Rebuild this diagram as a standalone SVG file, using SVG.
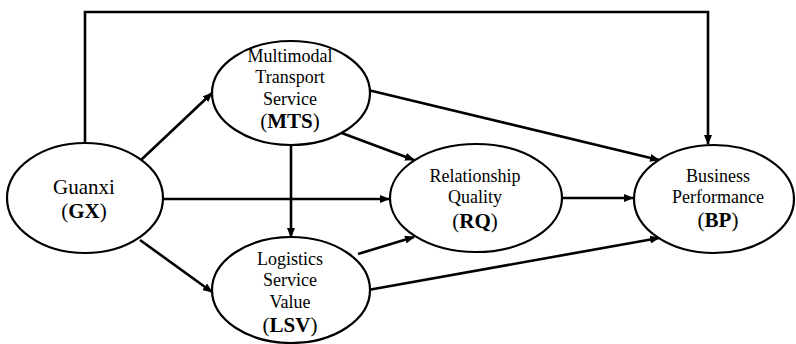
<svg xmlns="http://www.w3.org/2000/svg" width="796" height="344" viewBox="0 0 796 344" font-family="'Liberation Serif', 'Times New Roman', 'DejaVu Serif', serif">
<style>
.n{fill:#fff;stroke:#000;stroke-width:2.2}
.c{fill:none;stroke:#000;stroke-width:2.6;marker-end:url(#ah)}
text{font-family:'Liberation Serif','Times New Roman','DejaVu Serif',serif;font-size:18px;text-anchor:middle;fill:#000}
.b{font-size:21px}
.bb{font-weight:bold}
</style>
<defs>
<marker id="ah" markerWidth="10" markerHeight="8" refX="9" refY="4" orient="auto" markerUnits="userSpaceOnUse">
<path d="M0,0 L10,4 L0,8 Z" fill="#000"/>
</marker>
</defs>
<g id="connectors">
<path class="c" d="M85,144 V12 H708 V144"/>
<path class="c" d="M141,160 L212,93"/>
<path class="c" d="M140,240 L212,292"/>
<path class="c" d="M163,199 L389,199"/>
<path class="c" d="M291,145 L291,237"/>
<path class="c" d="M331,129 L414,160"/>
<path class="c" d="M358,254 L414,237"/>
<path class="c" d="M368,90 L659,160"/>
<path class="c" d="M368,290 L659,238"/>
<path class="c" d="M562,198 L633,198"/>
</g>
<g id="GX">
<ellipse class="n" cx="85" cy="198" rx="78" ry="55"/>
<text x="84" y="194" class="b">Guanxi</text>
<text x="84" y="218" class="b">(<tspan class="bb">GX</tspan>)</text>
</g>
<g id="MTS">
<ellipse class="n" cx="291" cy="93" rx="79" ry="52"/>
<text x="290" y="62">Multimodal</text>
<text x="290" y="83">Transport</text>
<text x="290" y="105">Service</text>
<text x="290" y="128" class="b">(<tspan class="bb">MTS</tspan>)</text>
</g>
<g id="LSV">
<ellipse class="n" cx="291" cy="290" rx="79" ry="53"/>
<text x="290" y="265">Logistics</text>
<text x="290" y="286">Service</text>
<text x="290" y="308">Value</text>
<text x="290" y="332" class="b">(<tspan class="bb">LSV</tspan>)</text>
</g>
<g id="RQ">
<ellipse class="n" cx="476" cy="198" rx="86" ry="54"/>
<text x="475" y="182">Relationship</text>
<text x="475" y="203">Quality</text>
<text x="475" y="228" class="b">(<tspan class="bb">RQ</tspan>)</text>
</g>
<g id="BP">
<ellipse class="n" cx="714" cy="199" rx="80" ry="54"/>
<text x="718" y="182">Business</text>
<text x="718" y="203">Performance</text>
<text x="718" y="227" class="b">(<tspan class="bb">BP</tspan>)</text>
</g>
</svg>
